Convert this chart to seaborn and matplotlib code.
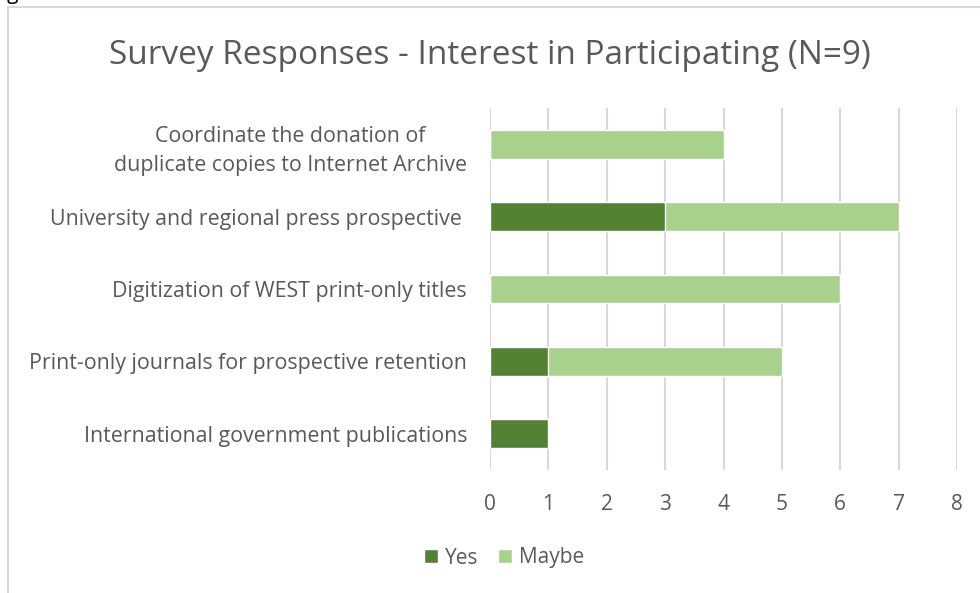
import matplotlib
matplotlib.use("Agg")
import matplotlib.pyplot as plt
import seaborn as sns
import pandas as pd
from matplotlib.patches import Rectangle, Patch

categories = [
    "Coordinate the donation of\nduplicate copies to Internet Archive",
    "University and regional press prospective ",
    "Digitization of WEST print-only titles",
    "Print-only journals for prospective retention",
    "International government publications",
]
yes_vals = [0, 3, 0, 1, 1]
maybe_vals = [4, 4, 6, 4, 0]
x_ticks = [0, 1, 2, 3, 4, 5, 6, 7, 8]
title = "Survey Responses - Interest in Participating (N=9)"

YES_C = "#548235"
MAYBE_C = "#A9D18E"
TXT = "#595959"
GRID = "#D9D9D9"

sns.set_theme(style="white")
plt.rcParams["font.family"] = ["Open Sans", "DejaVu Sans"]

df = pd.DataFrame({
    "cat": categories,
    "yes": yes_vals,
    "total": [y + m for y, m in zip(yes_vals, maybe_vals)],
})

fig = plt.figure(figsize=(9.8, 5.93), dpi=100)
ax = fig.add_axes([490 / 980, 1 - 470 / 593, (957 - 490) / 980, (470 - 108) / 593])

sns.barplot(data=df, y="cat", x="total", color=MAYBE_C, orient="h", width=0.4,
            ax=ax, saturation=1, zorder=3)
sns.barplot(data=df, y="cat", x="yes", color=YES_C, orient="h", width=0.4,
            ax=ax, saturation=1, zorder=4)

ax.set_xlim(0, 8)
ax.set_ylim(4.5, -0.5)
ax.set_xticks(x_ticks)
ax.set_xticklabels([str(t) for t in x_ticks])
ax.set_xlabel("")
ax.set_ylabel("")
for s in ax.spines.values():
    s.set_visible(False)
ax.grid(False)
for t in x_ticks:
    ax.axvline(t, color=GRID, lw=1.5, zorder=1)
ax.tick_params(axis="x", length=0, labelsize=15, labelcolor=TXT, pad=17)
ax.tick_params(axis="y", length=0, labelsize=15.4, labelcolor=TXT, pad=16.5)
for lbl in ax.get_yticklabels():
    lbl.set_multialignment("center")
    lbl.set_linespacing(1.5)

fig.text(0.5, 1 - 55 / 593, title, ha="center", va="center", fontsize=24, color=TXT)

handles = [Patch(facecolor=YES_C, label="Yes"), Patch(facecolor=MAYBE_C, label="Maybe")]
fig.legend(handles=handles, loc="center", bbox_to_anchor=(504 / 980, 1 - 558 / 593),
           ncol=2, frameon=False, fontsize=15, labelcolor=TXT,
           handlelength=0.65, handleheight=0.65, handletextpad=0.34, columnspacing=0.96,
           borderpad=0.2)

fig.patches.append(Rectangle((8 / 980, -0.05), 1.1, 1 - 7 / 593 + 0.05,
                             transform=fig.transFigure, fill=False,
                             edgecolor=GRID, lw=1.5, clip_on=False))
fig.text(7 / 980, 1 + 1 / 593, "g", ha="left", va="baseline", fontsize=15, color="black")

fig.savefig("out.png", dpi=100)
